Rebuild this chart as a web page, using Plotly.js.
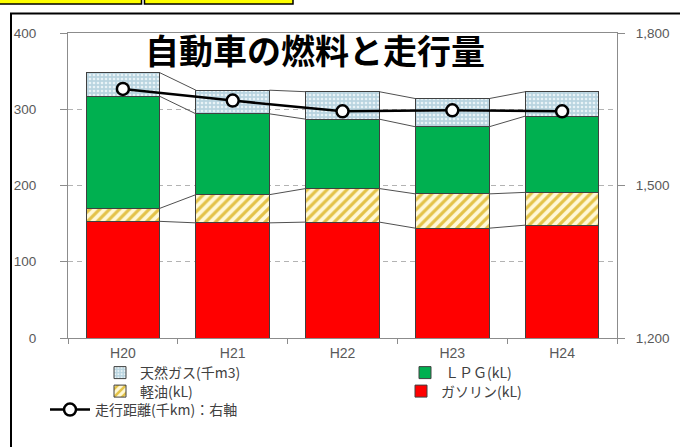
<!DOCTYPE html>
<html>
<head>
<meta charset="utf-8">
<script src="https://cdn.plot.ly/plotly-3.0.1.min.js"></script>
<style>
  html, body { margin: 0; padding: 0; background: #ffffff; }
  #chart { width: 680px; height: 447px; }
</style>
</head>
<body>
<div id="chart"></div>
<script>
// Fiscal years (Heisei)
const years = ['H20', 'H21', 'H22', 'H23', 'H24'];

// Fuel consumption, stacked from the bottom
const gasoline = [153, 151, 152, 144, 148];   // ガソリン (kL)
const keiyu    = [17, 37, 44, 45, 43];        // 軽油 (kL)
const lpg      = [147, 106, 91, 88, 100];     // ＬＰＧ (kL)
const natGas   = [31, 31, 36, 37, 32];        // 天然ガス (千m3)

// Distance travelled, right axis (千km)
const distance = [1690, 1667, 1646, 1648, 1646];

// Series names
const nameNatGas   = '天然ガス(千m3)';
const nameLpg      = 'ＬＰＧ(kL)';
const nameKeiyu    = '軽油(kL)';
const nameGasoline = 'ガソリン(kL)';
const nameDistance = '走行距離(千km)：右軸';

// Layout geometry (pixels)
const W = 680, H = 447;
const M = { l: 68, r: 63, t: 33, b: 109 };
const plotW = W - M.l - M.r;
const plotH = H - M.t - M.b;
const px = v => (v - M.l) / plotW;          // pixel x -> paper x
const py = v => (H - M.b - v) / plotH;      // pixel y -> paper y

const xIdx = years.map((_, i) => i);
const barWidth = 0.67;
const half = barWidth / 2;

const CJK = '"Noto Sans CJK JP", "Noto Sans", sans-serif';
const NUM = '"Liberation Sans", Arial, "Noto Sans CJK JP", sans-serif';
const lineCol = '#404040';

// cumulative tops of each stacked layer
function cumulate(...layers) {
  const out = [];
  let acc = years.map(() => 0);
  layers.forEach(layer => {
    acc = acc.map((a, i) => a + layer[i]);
    out.push(acc.slice());
  });
  return out;
}
const tops = cumulate(gasoline, keiyu, lpg, natGas);

// series lines joining the layer tops between neighbouring bars
function seriesLines(top) {
  const x = [], y = [];
  for (let i = 0; i < top.length - 1; i++) {
    x.push(xIdx[i] + half, xIdx[i + 1] - half, null);
    y.push(top[i], top[i + 1], null);
  }
  return {
    type: 'scatter', mode: 'lines', x, y,
    line: { color: '#505050', width: 1 },
    showlegend: false, hoverinfo: 'skip'
  };
}

const barLine = { color: lineCol, width: 1 };

const traces = [
  {
    type: 'bar', name: nameGasoline, x: xIdx, y: gasoline, width: barWidth,
    marker: { color: '#ff0000', line: barLine },
    legend: 'legend4'
  },
  {
    type: 'bar', name: nameKeiyu, x: xIdx, y: keiyu, width: barWidth,
    marker: {
      color: '#fff8d6', line: barLine,
      pattern: { shape: '/', fgcolor: '#e3c247', bgcolor: '#fff8d6', size: 7, solidity: 0.45 }
    },
    legend: 'legend3'
  },
  {
    type: 'bar', name: nameLpg, x: xIdx, y: lpg, width: barWidth,
    marker: { color: '#00b050', line: barLine },
    legend: 'legend2'
  },
  {
    type: 'bar', name: nameNatGas, x: xIdx, y: natGas, width: barWidth,
    marker: {
      color: '#bcd6e2', line: barLine,
      pattern: { shape: '.', fgcolor: '#e9f3f7', bgcolor: '#b9d4e0', size: 4, solidity: 0.35 }
    },
    legend: 'legend'
  },
  ...tops.map(seriesLines),
  {
    type: 'scatter', mode: 'lines+markers', name: nameDistance,
    x: xIdx, y: distance, yaxis: 'y2',
    line: { color: '#000000', width: 2.5 },
    marker: { symbol: 'circle', size: 12, color: '#ffffff', line: { color: '#000000', width: 2.5 } },
    legend: 'legend5'
  }
];

function legendAt(xPix, yPix, extra) {
  return Object.assign({
    x: px(xPix), y: py(yPix), xanchor: 'left', yanchor: 'middle',
    orientation: 'v', bgcolor: 'rgba(0,0,0,0)', borderwidth: 0,
    font: { family: CJK, size: 14, color: '#404040' },
    itemwidth: 30
  }, extra || {});
}

const layout = {
  width: W, height: H,
  margin: M,
  paper_bgcolor: '#ffffff',
  plot_bgcolor: '#ffffff',
  barmode: 'stack',
  bargap: 0,
  showlegend: true,
  title: {
    text: '自動車の燃料と走行量',
    font: { family: CJK, size: 34, color: '#000000', weight: 700 },
    xref: 'paper', x: px(315), xanchor: 'center',
    yref: 'container', y: 1 - 52 / H, yanchor: 'middle'
  },
  xaxis: {
    range: [-0.5, 4.5],
    tickmode: 'array', tickvals: xIdx, ticktext: years,
    ticks: '', showgrid: false, zeroline: false,
    showline: true, linecolor: '#8c8c8c', linewidth: 1, mirror: true,
    tickfont: { family: NUM, size: 14, color: '#595959' },
    ticklabelstandoff: 2,
    minor: {
      tickmode: 'array', tickvals: [-0.5, 0.5, 1.5, 2.5, 3.5, 4.5],
      ticks: 'outside', ticklen: 5, tickcolor: '#8c8c8c', showgrid: false
    }
  },
  yaxis: {
    range: [0, 400], tickmode: 'linear', tick0: 0, dtick: 100,
    ticks: 'outside', ticklen: 7, tickcolor: '#8c8c8c',
    showline: true, linecolor: '#8c8c8c', linewidth: 1,
    showgrid: true, gridcolor: '#b3b3b3', gridwidth: 1, griddash: '5px,4px',
    zeroline: false,
    tickfont: { family: NUM, size: 13.5, color: '#595959' },
    ticklabelstandoff: 21
  },
  yaxis2: {
    overlaying: 'y', side: 'right',
    range: [1200, 1800], tickmode: 'linear', tick0: 1200, dtick: 300,
    tickformat: ',d',
    ticks: 'outside', ticklen: 7, tickcolor: '#8c8c8c',
    showline: true, linecolor: '#8c8c8c', linewidth: 1,
    showgrid: false, zeroline: false,
    tickfont: { family: NUM, size: 13.5, color: '#595959' },
    ticklabelstandoff: 8
  },
  legend:  legendAt(100, 373),
  legend2: legendAt(405, 373),
  legend3: legendAt(100, 391.5),
  legend4: legendAt(401, 391.5),
  legend5: legendAt(45, 410, { itemwidth: 40 }),
  shapes: [
    // outer chart frame
    { type: 'rect', xref: 'paper', yref: 'paper', layer: 'above',
      x0: px(11), x1: px(700), y0: py(13.5), y1: py(470),
      line: { color: '#000000', width: 2 }, fillcolor: 'rgba(0,0,0,0)' },
    // yellow header cells
    { type: 'rect', xref: 'paper', yref: 'paper', layer: 'above',
      x0: px(-5), x1: px(141.5), y0: py(4), y1: py(-10),
      line: { color: '#000000', width: 1.5 }, fillcolor: '#ffff00' },
    { type: 'rect', xref: 'paper', yref: 'paper', layer: 'above',
      x0: px(144.5), x1: px(293), y0: py(4), y1: py(-10),
      line: { color: '#000000', width: 1.5 }, fillcolor: '#ffff00' }
  ]
};

Plotly.newPlot('chart', traces, layout, { displayModeBar: false, staticPlot: true });
</script>
</body>
</html>
